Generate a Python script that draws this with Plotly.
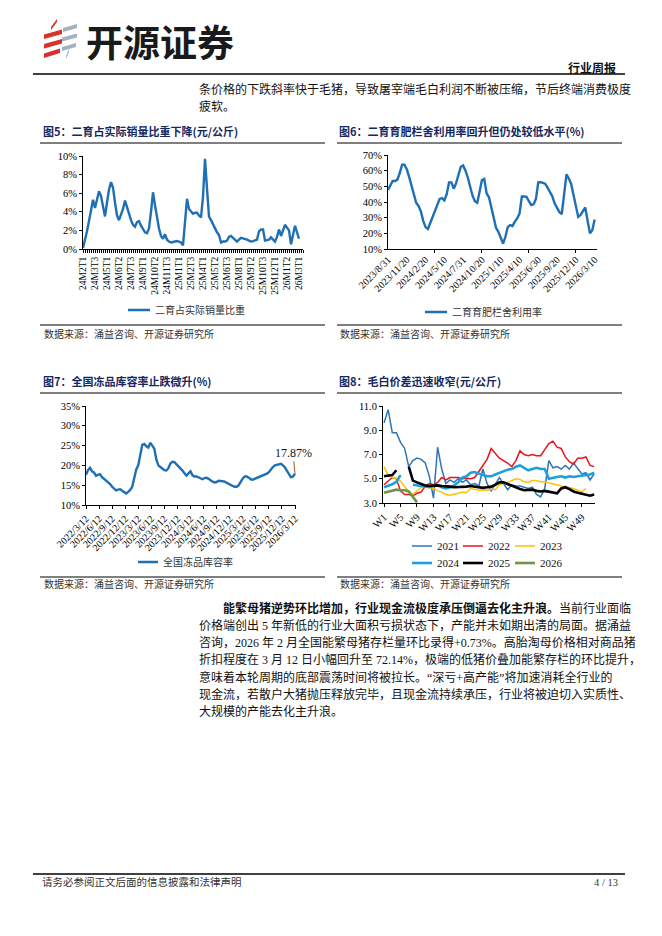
import plotly.graph_objects as go

W, H = 662, 936
OFF = 8  # the page body adds an 8px margin around the figure
def px(x): return (x - OFF) / W
def py(y): return 1 - (y - OFF) / H

SERIF = "Liberation Serif, Noto Sans CJK SC"
CJK = "Liberation Serif, Noto Sans CJK SC"
BLUE = "#1F6FB4"
NAVY = "#14275E"

# ---------------- Chart 5 ----------------
c5_ticks = ["24M2T1", "24M3T3", "24M5T1", "24M6T2", "24M7T3", "24M9T1", "24M10T2",
            "24M11T3", "25M1T1", "25M2T3", "25M4T1", "25M5T2", "25M6T3", "25M8T1",
            "25M9T2", "25M10T3", "25M12T1", "26M1T2", "26M3T1"]
c5_yticks = [0, 2, 4, 6, 8, 10]
c5_vals = [0.1, 0.9, 1.9, 3.0, 4.2, 5.3, 4.4, 5.4, 6.2, 5.7,
           4.6, 3.5, 5.0, 6.4, 7.2, 6.6, 5.0, 3.6, 3.1, 3.6,
           4.3, 5.2, 4.4, 3.6, 3.1, 2.6, 2.4, 2.9, 3.0, 2.5,
           2.1, 1.8, 1.7, 2.2, 4.0, 6.1, 4.7, 3.2, 2.2, 1.4,
           1.1, 1.6, 1.0, 0.8, 0.7, 0.75, 0.8, 0.85, 0.8, 0.7,
           0.4, 2.8, 5.4, 4.3, 4.0, 3.8, 3.9, 3.9, 3.6, 3.4,
           5.6, 9.7, 6.5, 3.5, 3.1, 2.6, 2.2, 1.8, 1.5, 0.7,
           0.8, 0.8, 0.9, 1.3, 1.4, 1.2, 0.9, 0.8, 1.0, 1.2,
           1.15, 1.1, 1.0, 0.9, 0.8, 0.85, 0.95, 1.0, 1.9, 2.1,
           2.1, 0.9, 0.95, 1.0, 1.25, 1.0, 0.8, 1.3, 2.1, 1.4,
           2.0, 2.6, 2.3, 2.0, 0.5, 1.4, 2.5, 1.8, 1.1]
c5_name = "二育占实际销量比重"

# ---------------- Chart 6 ----------------
c6_ticks = ["2023/8/31", "2023/11/20", "2024/2/20", "2024/5/10", "2024/7/31", "2024/10/20",
            "2025/1/10", "2025/4/10", "2025/6/30", "2025/9/20", "2025/12/10", "2026/3/10"]
c6_yticks = [10, 20, 30, 40, 50, 60, 70]
c6_vals = [47.7, 51.0, 53.4, 53.4, 54.3, 58.5, 63.8, 63.8, 61.0, 56.0,
           51.0, 45.0, 39.5, 37.5, 34.0, 28.0, 24.0, 22.8, 26.5, 30.0,
           34.5, 38.5, 42.0, 42.5, 41.0, 45.0, 52.5, 52.5, 48.5, 52.0,
           57.0, 62.5, 63.3, 60.0, 55.5, 49.0, 44.0, 40.5, 39.5, 46.5,
           54.0, 54.7, 45.5, 43.0, 36.5, 28.5, 23.5, 21.0, 17.5, 13.5,
           17.8, 24.0, 25.3, 24.7, 27.5, 29.5, 32.5, 43.5, 43.5, 43.3,
           40.5, 38.0, 38.5, 42.0, 52.5, 52.6, 52.2, 51.5, 49.0, 46.5,
           43.5, 39.0, 36.0, 33.5, 32.3, 44.5, 57.7, 55.0, 51.5, 44.5,
           37.0, 30.5, 31.8, 34.0, 36.5, 28.0, 20.0, 22.0, 28.9]
c6_name = "二育育肥栏舍利用率"

# ---------------- Chart 7 ----------------
c7_ticks = ["2022/3/12", "2022/6/12", "2022/9/12", "2022/12/12", "2023/3/12", "2023/6/12",
            "2023/9/12", "2023/12/12", "2024/3/12", "2024/6/12", "2024/9/12", "2024/12/12",
            "2025/3/12", "2025/6/12", "2025/9/12", "2025/12/12", "2026/3/12"]
c7_yticks = [10, 15, 20, 25, 30, 35]
c7_weeks = list(range(0, 209, 2))
c7_vals = [17.6, 18.8, 19.4, 18.5, 18.2, 17.4, 17.6, 17.8, 17.0, 16.6,
           16.2, 15.7, 15.3, 14.6, 14.1, 13.7, 13.9, 14.0, 13.6, 13.3,
           12.9, 13.3, 13.8, 14.6, 17.0, 19.0, 20.0, 23.0, 25.2, 25.4,
           24.8, 24.5, 25.7, 25.0, 24.2, 21.5, 20.0, 19.6, 19.2, 18.8,
           18.7, 19.3, 20.5, 20.9, 20.8, 20.3, 19.7, 19.2, 18.7, 18.0,
           17.4, 18.0, 18.5, 17.5, 17.2, 17.2, 17.0, 16.8, 16.5, 16.8,
           16.9, 16.6, 16.2, 15.9, 15.7, 15.8, 16.1, 16.1, 16.0, 15.9,
           15.6, 15.2, 15.0, 14.8, 14.6, 14.6, 15.0, 15.9, 16.7, 17.2,
           17.2, 16.9, 16.5, 16.4, 16.6, 16.8, 17.0, 17.2, 17.4, 17.6,
           17.9, 18.3, 19.0, 19.6, 20.0, 20.2, 20.3, 20.4, 20.0, 19.5,
           18.6, 17.6, 17.0, 17.2, 17.87]
c7_name = "全国冻品库容率"
c7_label = "17.87%"

# ---------------- Chart 8 ----------------
c8_ticks = ["W1", "W5", "W9", "W13", "W17", "W21", "W25", "W29", "W33", "W37", "W41", "W45", "W49"]
c8_yticks = [3, 5, 7, 9, 11]
c8_weeks = list(range(1, 53))
s2021 = [9.6, 10.7, 8.8, 8.8, 8.0, 7.5, 6.0, 6.5, 6.7, 6.6,
         6.3, 5.2, 3.4, 7.6, 5.8, 4.6, 4.9, 4.7, 5.0, 4.7,
         4.9, 4.5, 4.6, 4.4, 5.8, 4.6, 4.0, 4.6, 5.1, 4.6,
         4.1, 4.5, 4.4, 4.4, 4.3, 4.2, 4.3, 3.7, 3.5, 4.2,
         6.5, 5.9, 6.0, 5.8, 6.1, 5.8, 6.3, 5.8, 5.4, 5.5,
         4.9, 5.4]
s2022 = [4.5, 4.8, 5.1, 5.0, 4.0, 3.7, 3.7, 3.6, 3.8, 3.9,
         4.4, 4.6, 4.5, 4.7, 5.1, 4.9, 5.1, 5.1, 5.1, 5.0,
         5.05, 5.0, 5.1, 5.6, 6.1, 6.6, 7.5, 7.1, 6.7, 6.5,
         6.3, 6.0, 6.5, 7.3, 7.0, 6.9, 7.0, 6.9, 6.9, 7.4,
         7.9, 8.1, 7.6, 7.5, 6.8, 6.4, 6.2, 6.7, 6.7, 6.8,
         6.1, 6.0]
s2023 = [6.0, 5.3, 5.1, 5.0, 4.8, 4.3, 3.9, 3.7, 4.0, 4.3,
         4.5, 4.3, 4.2, 4.0, 3.9, 3.7, 3.65, 3.7, 3.8, 3.9,
         3.85, 4.2, 4.1, 4.05, 4.1, 4.05, 4.15, 4.1, 4.5, 4.65,
         4.7, 4.85, 5.0, 4.95, 4.75, 4.7, 4.85, 4.85, 4.75, 4.75,
         4.65, 4.55, 4.5, 4.4, 4.35, 4.3, 4.2, 4.05, 3.9, 4.2,
         None, None]
s2024 = [4.3, 4.4, 4.55, 4.75, 5.3, None, None, 4.5, 4.45, 4.4,
         4.3, 4.3, 4.4, 4.45, 4.3, 4.2, 4.3, 4.45, 4.7, 5.1,
         5.2, 5.5, 5.55, 5.4, 5.3, 5.2, 5.2, 5.35, 5.5, 5.65,
         5.75, 5.8, 6.0, 6.1, 5.9, 5.7, 5.8, 5.9, 5.8, 5.8,
         5.0, 5.1, 5.15, 5.2, 5.1, 5.2, 5.15, 5.2, 5.25, 5.3,
         5.35, 5.5]
s2025 = [5.2, 5.25, 5.3, 5.7, None, None, 6.0, 4.85, 4.7, 4.55,
         4.45, 4.4, 4.45, 4.45, 4.4, 4.4, 4.35, 4.3, 4.3, 4.3,
         4.35, 4.4, 4.35, 4.3, 4.25, 4.3, 4.35, 4.5, 4.7, 4.7,
         4.55, 4.4, 4.25, 4.15, 4.05, 4.05, 4.1, 4.0, 3.95, 4.0,
         3.95, 3.9, 3.8, 4.2, 4.3, 4.15, 3.95, 3.85, 3.75, 3.65,
         3.6, 3.7]
s2026 = [3.85, 3.95, 4.05, 4.1, 4.05, 4.05, 3.95, 3.5, 3.05]
c8_names = ["2021", "2022", "2023", "2024", "2025", "2026"]
c8_series = [s2021, s2022, s2023, s2024, s2025, s2026]
c8_colors = ["#2E75B6", "#E8141B", "#FFC000", "#1AA1DE", "#000000", "#6E9448"]
c8_widths = [1.5, 1.5, 1.5, 2.6, 2.6, 2.6]

fig = go.Figure()

fig.add_trace(go.Scatter(x=list(range(len(c5_vals))), y=c5_vals, mode="lines", name=c5_name,
                         line=dict(color=BLUE, width=2.4), xaxis="x", yaxis="y", showlegend=False))
fig.add_trace(go.Scatter(x=list(range(len(c6_vals))), y=c6_vals, mode="lines", name=c6_name,
                         line=dict(color=BLUE, width=2.4), xaxis="x2", yaxis="y2", showlegend=False))
fig.add_trace(go.Scatter(x=c7_weeks, y=c7_vals, mode="lines", name=c7_name,
                         line=dict(color=BLUE, width=2.4), xaxis="x3", yaxis="y3", showlegend=False))
for nm, s, col, wd in zip(c8_names, c8_series, c8_colors, c8_widths):
    fig.add_trace(go.Scatter(x=c8_weeks[:len(s)], y=s, mode="lines", name=nm,
                             line=dict(color=col, width=wd), xaxis="x4", yaxis="y4",
                             showlegend=False, connectgaps=False))

tf = dict(family=SERIF, size=10.5, color="#000")
base = dict(showline=True, linecolor="#000", linewidth=1, showgrid=False, zeroline=False,
            ticks="outside", ticklen=3, tickcolor="#000", tickfont=tf, fixedrange=True,
            automargin=False)

def pct(vals):
    return [f"{v}%" for v in vals]

fig.update_layout(
    width=W, height=H, margin=dict(l=0, r=0, t=0, b=0, pad=0, autoexpand=False),
    paper_bgcolor="white", plot_bgcolor="white",
    xaxis=dict(base, domain=[px(83), px(303)], anchor="y", range=[0, 110],
               tickmode="array", tickvals=[i * 6 for i in range(len(c5_ticks))], ticktext=c5_ticks,
               tickangle=-90, tickfont=dict(family=SERIF, size=9.5, color="#000"),
               minor=dict(tickmode="linear", tick0=0, dtick=1, ticks="outside", ticklen=3, tickcolor="#000")),
    yaxis=dict(base, domain=[py(249), py(156)], anchor="x", range=[0, 10],
               tickmode="array", tickvals=c5_yticks, ticktext=pct(c5_yticks)),
    xaxis2=dict(base, domain=[px(388), px(597)], anchor="y2", range=[0, 89],
                tickmode="array", tickvals=[i * 8 for i in range(len(c6_ticks))], ticktext=c6_ticks,
                tickangle=-45, ticks="", tickfont=dict(family=SERIF, size=10, color="#000"),
                minor=dict(tickmode="array", tickvals=[20, 40, 60, 80], ticks="outside", ticklen=3, tickcolor="#000")),
    yaxis2=dict(base, domain=[py(249), py(155)], anchor="x2", range=[10, 70],
                tickmode="array", tickvals=c6_yticks, ticktext=pct(c6_yticks)),
    xaxis3=dict(base, domain=[px(86), px(296)], anchor="y3", range=[0, 209],
                tickmode="array", tickvals=[i * 13 for i in range(len(c7_ticks))], ticktext=c7_ticks,
                tickangle=-45, tickfont=dict(family=SERIF, size=10, color="#000")),
    yaxis3=dict(base, domain=[py(505), py(406)], anchor="x3", range=[10, 35],
                tickmode="array", tickvals=c7_yticks, ticktext=pct(c7_yticks)),
    xaxis4=dict(base, domain=[px(383), px(595)], anchor="y4", range=[0.75, 52.2],
                tickmode="array", tickvals=[1 + 4 * i for i in range(len(c8_ticks))], ticktext=c8_ticks,
                tickangle=-45),
    yaxis4=dict(base, domain=[py(503), py(406)], anchor="x4", range=[3, 11],
                tickmode="array", tickvals=c8_yticks, ticktext=[f"{v:.1f}" for v in c8_yticks]),
)

shapes = []
ann = []

def hline(x0, x1, y, w=1.0, color="#000"):
    shapes.append(dict(type="line", xref="paper", yref="paper", x0=px(x0), x1=px(x1),
                       y0=py(y), y1=py(y), line=dict(color=color, width=w)))

def text(x, y, t, size=12, color="#111", anchor="left", family=CJK):
    ann.append(dict(xref="paper", yref="paper", x=px(x), y=py(y), text=t, showarrow=False,
                    xanchor=anchor, yanchor="middle", font=dict(family=family, size=size, color=color)))

def para(x0, y0, w, s, h):
    # slanted bar (parallelogram) for the logo
    pts = [(x0, y0), (x0 + w, y0 - s), (x0 + w, y0 - s - h), (x0, y0 - h)]
    return "M " + " L ".join(f"{px(a):.5f} {py(b):.5f}" for a, b in pts) + " Z"

RED, GRAY = "#D8322C", "#A2B3C2"
logo = [
    (para(51, 30, 6, 8, 3), RED), (para(44, 39, 18, 5, 4.5), RED),
    (para(44, 48.5, 18, 5, 4.5), RED), (para(44, 58, 16, 5, 4.5), RED),
    (para(63, 32, 14, 4, 4), GRAY), (para(62, 41.5, 15, 4, 4), GRAY),
    (para(62, 51, 14, 4, 4), GRAY), (para(66, 59, 3, 7, 3), GRAY),
]
for p, c in logo:
    shapes.append(dict(type="path", xref="paper", yref="paper", path=p, fillcolor=c, line=dict(width=0)))

# header
text(84, 41, "<b>开源证券</b>", size=37, color="#1A1A1A", family="Noto Sans CJK SC")
text(618, 67, "<b>行业周报</b>", size=12, color="#111", anchor="right", family="Noto Sans CJK SC")
hline(33, 625, 74, 1.5)
text(197, 89, "条价格的下跌斜率快于毛猪，导致屠宰端毛白利润不断被压缩，节后终端消费极度", size=12)
text(197, 107, "疲软。", size=12)

# chart titles and rules
text(41, 131, "<b>图5：二育占实际销量比重下降(元/公斤)</b>", size=11, color=NAVY, family="Noto Sans CJK SC")
text(337, 131, "<b>图6：二育育肥栏舍利用率回升但仍处较低水平(%)</b>", size=11, color=NAVY, family="Noto Sans CJK SC")
hline(40, 325, 143)
hline(337, 622, 143)
hline(40, 325, 325)
hline(337, 622, 325)
text(42, 334, "数据来源：涌益咨询、开源证券研究所", size=10, color="#333")
text(338, 334, "数据来源：涌益咨询、开源证券研究所", size=10, color="#333")

text(41, 381, "<b>图7：全国冻品库容率止跌微升(%)</b>", size=11, color=NAVY, family="Noto Sans CJK SC")
text(337, 381, "<b>图8：毛白价差迅速收窄(元/公斤)</b>", size=11, color=NAVY, family="Noto Sans CJK SC")
hline(40, 325, 393)
hline(337, 622, 393)
hline(40, 325, 577)
hline(337, 622, 577)
text(42, 584, "数据来源：涌益咨询、开源证券研究所", size=10, color="#333")
text(338, 584, "数据来源：涌益咨询、开源证券研究所", size=10, color="#333")

# manual legends
def legkey(x0, x1, y, color, w):
    shapes.append(dict(type="line", xref="paper", yref="paper", x0=px(x0), x1=px(x1),
                       y0=py(y), y1=py(y), line=dict(color=color, width=w)))

legkey(128, 150, 310, BLUE, 2.5); text(153, 310, c5_name, size=10, color="#333")
legkey(425, 447, 312, BLUE, 2.5); text(450, 312, c6_name, size=10, color="#333")
legkey(138, 158, 562, BLUE, 2.5); text(161, 562, c7_name, size=10, color="#333")
leg_x = [412, 463, 515]
for i, (nm, col, wd) in enumerate(zip(c8_names, c8_colors, c8_widths)):
    row_y = 546 if i < 3 else 563
    x0 = leg_x[i % 3]
    legkey(x0, x0 + 20, row_y, col, wd)
    text(x0 + 23, row_y, nm, size=11, color="#111", family=SERIF)

# 17.87% label
ann.append(dict(xref="x3", yref="y3", x=c7_weeks[-1], y=c7_vals[-1], text=c7_label,
                showarrow=True, arrowhead=0, arrowwidth=1, arrowcolor="#A0522D",
                ax=-2, ay=-21, font=dict(family=SERIF, size=12, color="#111")))

# body paragraph
body_y = [608, 625.3, 642.6, 659.9, 677.2, 694.5, 711.8]
body = [
    "<b>能繁母猪逆势环比增加，行业现金流极度承压倒逼去化主升浪。</b>当前行业面临",
    "价格端创出 5 年新低的行业大面积亏损状态下，产能并未如期出清的局面。据涌益",
    "咨询，2026 年 2 月全国能繁母猪存栏量环比录得+0.73%。高胎淘母价格相对商品猪",
    "折扣程度在 3 月 12 日小幅回升至 72.14%，极端的低猪价叠加能繁存栏的环比提升，",
    "意味着本轮周期的底部震荡时间将被拉长。“深亏+高产能”将加速消耗全行业的",
    "现金流，若散户大猪抛压释放完毕，且现金流持续承压，行业将被迫切入实质性、",
    "大规模的产能去化主升浪。",
]
for i, (yy, t) in enumerate(zip(body_y, body)):
    text(221 if i == 0 else 197, yy, t, size=12)

# footer
hline(33, 625, 874, 1.5)
text(40, 882, "请务必参阅正文后面的信息披露和法律声明", size=10.5, color="#333")
text(620, 882, "4 / 13", size=10.5, color="#333", anchor="right", family=SERIF)

fig.update_layout(shapes=shapes, annotations=ann)
fig.write_html("out.html")
